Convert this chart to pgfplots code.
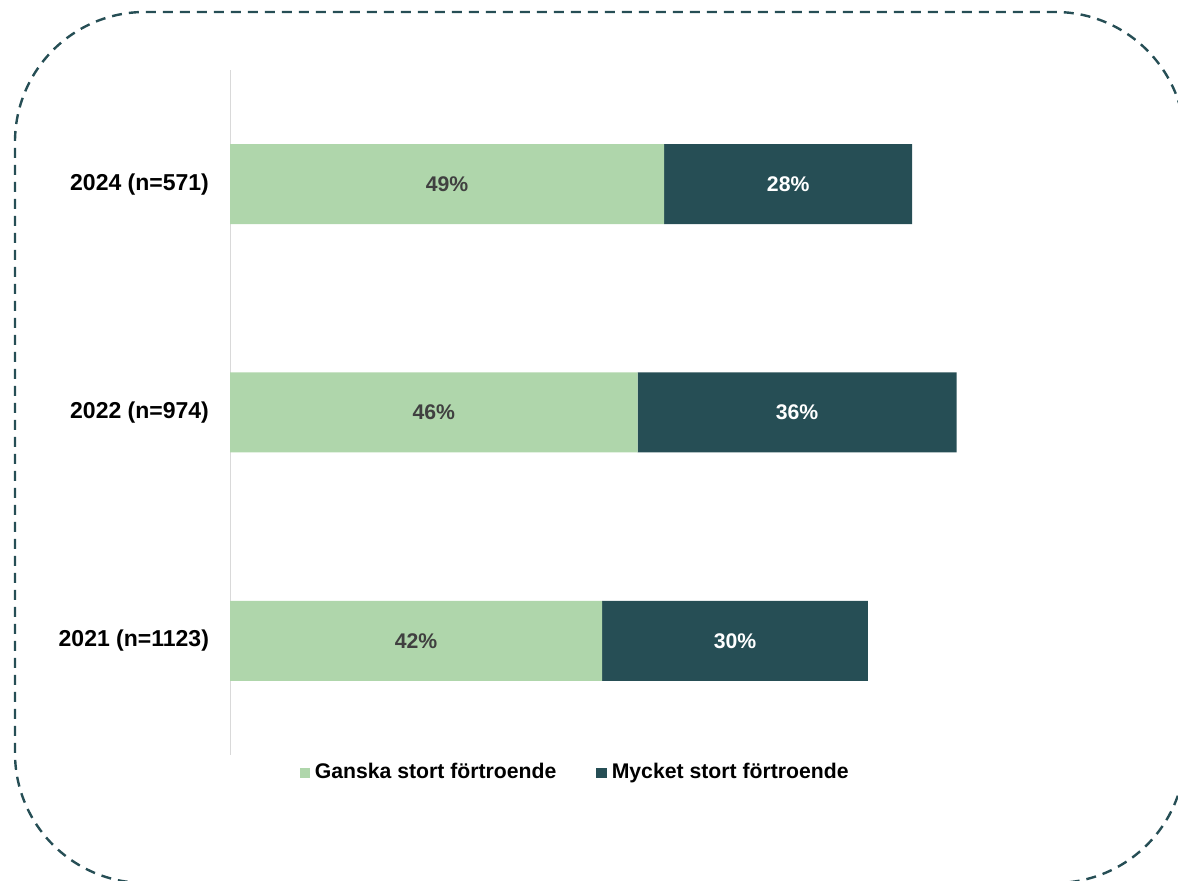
\documentclass[border=0pt]{standalone}
\usepackage{pgfplots}
\pgfplotsset{compat=1.18}
\usepackage{fontspec}
\setmainfont{Liberation Sans}
\definecolor{lightg}{HTML}{AFD6AB}
\definecolor{darkt}{HTML}{264E55}
\definecolor{lblgray}{HTML}{404040}
\definecolor{axgray}{HTML}{D9D9D9}
\begin{document}
\begin{tikzpicture}
\useasboundingbox (0pt,0pt) rectangle (589pt,440.5pt);
\begin{scope}
\clip (0pt,0pt) rectangle (589pt,440.5pt);
\draw[darkt, line width=1.2pt, dash pattern=on 5pt off 3.5pt, rounded corners=65pt] (7.5pt,-1pt) rectangle (592.5pt,434.5pt);
\end{scope}
\begin{axis}[
  at={(115pt,63pt)}, anchor=south west,
  scale only axis, width=443pt, height=342.5pt,
  xbar stacked, bar width=40pt,
  xmin=0, xmax=100, ymin=-0.5, ymax=2.5,
  axis x line=none,
  axis y line*=left,
  y axis line style={draw=axgray, line width=0.5pt},
  ytick={0,1,2},
  yticklabels={2021 (n=1123),2022 (n=974),2024 (n=571)},
  major tick length=0pt,
  yticklabel style={font=\bfseries\fontsize{11.5}{13}\selectfont, text=black, xshift=-7pt},
  point meta=explicit,
  nodes near coords={\pgfmathprintnumber[assume math mode=true]{\pgfplotspointmeta}\%},
  every node near coord/.append style={anchor=center, font=\bfseries\fontsize{10.6}{12}\selectfont},
  legend columns=2,
  legend style={at={(0.39,-0.026)}, anchor=center, draw=none, fill=none,
    font=\bfseries\fontsize{10.6}{12}\selectfont,
    /tikz/every even column/.append style={column sep=18.5pt},
    nodes={inner sep=1.5pt}},
  legend image code/.code={\fill[#1] (0pt,-2.6pt) rectangle (5.2pt,2.6pt);},
]
\addplot[fill=lightg, draw=none, every node near coord/.append style={text=lblgray}]
  coordinates {(42,0) [42] (46,1) [46] (49,2) [49]};
\addplot[fill=darkt, draw=none, every node near coord/.append style={text=white}]
  coordinates {(30,0) [30] (36,1) [36] (28,2) [28]};
\legend{{\hspace{1pt}Ganska stort förtroende}, {\hspace{1pt}Mycket stort förtroende}}
\end{axis}
\end{tikzpicture}
\end{document}
